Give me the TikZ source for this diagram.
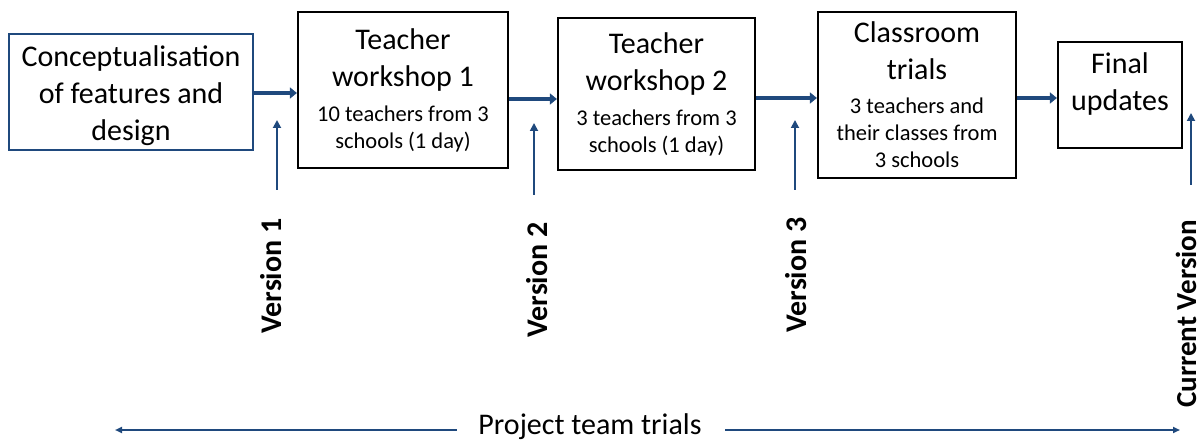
\documentclass[tikz,border=0pt]{standalone}
\usepackage{fontspec}
\setmainfont{Carlito}
\usetikzlibrary{arrows.meta}
\definecolor{navy}{RGB}{31,73,125}
\newcommand\hdfont{\fontsize{30}{37}\selectfont}
\newcommand\dtfont{\fontsize{22.5}{27}\selectfont}
\begin{document}
\begin{tikzpicture}[x=1pt,y=-1pt,
  stage/.style={draw=black, line width=2.2pt, inner sep=0pt, align=center,
    font=\hdfont, minimum width=#1},
  caption/.style={font=\hdfont, align=center},
  flow/.style={draw=navy, line width=4.5pt, -{Triangle[length=7pt,width=11pt]}},
  tick/.style={draw=navy, line width=1.8pt, -{Triangle[length=8pt,width=8pt]}},
  span/.style={draw=navy, line width=1.8pt, -{Triangle[length=7pt,width=6pt]}},
  version/.style={rotate=90, inner sep=0pt, font=\fontsize{30}{36}\selectfont\bfseries}]
\useasboundingbox (0,0) rectangle (1203,441);

% process stages
\node[stage=244pt, minimum height=116pt, draw=navy,
  label={[caption, yshift=-4pt]center:Conceptualisation\\of features and\\design}]
  (concept) at (131,92) {};
\node[stage=210pt, minimum height=156pt] (tw1) at (403,90)
  {Teacher\\workshop 1\\[-2pt]\dtfont 10 teachers from 3\\[-10pt]\dtfont schools (1 day)};
\node[stage=197pt, minimum height=152pt] (tw2) at (656.5,94)
  {Teacher\\workshop 2\\[-2pt]\dtfont 3 teachers from 3\\[-10pt]\dtfont schools (1 day)};
\node[stage=198pt, minimum height=166pt] (trials) at (917,95)
  {Classroom\\trials\\[-3pt]\dtfont 3 teachers and\\[-10pt]\dtfont their classes from\\[-10pt]\dtfont 3 schools};
\node[stage=124pt, minimum height=106pt,
  label={[caption, yshift=11pt]center:Final\\updates}] (final) at (1120,95) {};

% flow between stages
\draw[flow] ([yshift=-1pt]concept.east) -- ([yshift=-1pt]concept.east -| tw1.west);
\draw[flow] ([yshift=-9pt]tw1.east) -- ([yshift=-9pt]tw1.east -| tw2.west);
\draw[flow] ([yshift=-4pt]tw2.east) -- ([yshift=-4pt]tw2.east -| trials.west);
\draw[flow] ([yshift=-3pt]trials.east) -- ([yshift=-3pt]trials.east -| final.west);

% version markers
\coordinate (v1a) at (277,190); \coordinate (v1b) at (277,120);
\coordinate (v2a) at (534,195); \coordinate (v2b) at (534,123);
\coordinate (v3a) at (795,190); \coordinate (v3b) at (795,120);
\coordinate (v4a) at (1191,185); \coordinate (v4b) at (1191,113);
\draw[tick] (v1a) -- (v1b);
\draw[tick] (v2a) -- (v2b);
\draw[tick] (v3a) -- (v3b);
\draw[tick] (v4a) -- (v4b);
\node[version] (ver1) at (271,276) {Version 1};
\node[version] (ver2) at (537,280) {Version 2};
\node[version] (ver3) at (796,275) {Version 3};
\node[version, font=\fontsize{29}{35}\selectfont\bfseries] (ver4) at (1186,314) {Current Version};

% project team trials span
\node[font=\fontsize{30}{36}\selectfont] (team) at (590,427) {Project team trials};
\coordinate (spanL) at (115,430);
\coordinate (spanR) at (1180,430);
\draw[span] ([xshift=-18pt,yshift=-3pt]team.west) -- (spanL);
\draw[span] ([xshift=20pt,yshift=-3pt]team.east) -- (spanR);
\end{tikzpicture}
\end{document}
